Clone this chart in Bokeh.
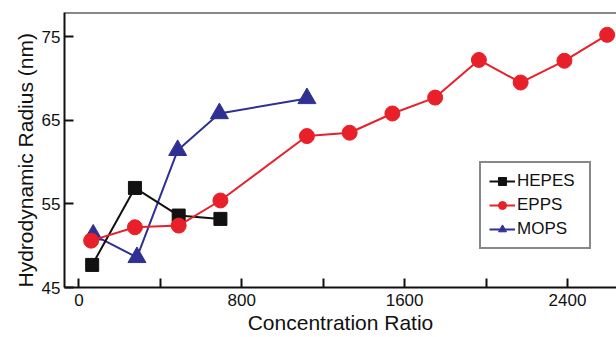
from bokeh.plotting import figure
from bokeh.models import Range1d, FixedTicker, Span, Legend, LegendItem, Title
from bokeh.embed import file_html
from bokeh.resources import INLINE

hepes_x = [65, 275, 490, 695]
hepes_y = [47.7, 56.9, 53.6, 53.2]
epps_x = [60, 275, 490, 695, 1120, 1330, 1540, 1750, 1965, 2170, 2385, 2595]
epps_y = [50.6, 52.2, 52.4, 55.4, 63.1, 63.5, 65.8, 67.7, 72.2, 69.5, 72.1, 75.2]
mops_x = [70, 285, 485, 690, 1120]
mops_y = [51.3, 48.6, 61.4, 65.8, 67.6]

x_ticks = [0, 400, 800, 1200, 1600, 2000, 2400]
x_labels = {0: "0", 400: "", 800: "800", 1200: "", 1600: "1600", 2000: "", 2400: "2400"}
y_ticks = [45, 55, 65, 75]

FONT = "Liberation Sans"
BLACK = "#111111"
RED = "#E8202A"
BLUE = "#2E3192"

p = figure(width=616, height=337, output_backend="svg", toolbar_location=None,
           x_range=Range1d(-71, 2641), y_range=Range1d(45, 77.87),
           min_border_left=64, min_border_right=0, min_border_top=12, min_border_bottom=50)
p.outline_line_color = None
p.grid.visible = False
p.background_fill_color = "white"
p.border_fill_color = "white"

for ax in (p.xaxis[0], p.yaxis[0]):
    ax.axis_line_width = 2
    ax.axis_line_color = BLACK
    ax.major_tick_in = 9
    ax.major_tick_out = 0
    ax.major_tick_line_width = 2
    ax.major_tick_line_color = BLACK
    ax.minor_tick_line_color = None
    ax.major_label_text_font = FONT
    ax.major_label_text_font_size = "17px"
    ax.major_label_text_color = BLACK
    ax.axis_label_text_font = FONT
    ax.axis_label_text_font_size = "21px"
    ax.axis_label_text_font_style = "normal"
    ax.axis_label_text_color = BLACK

p.xaxis.ticker = FixedTicker(ticks=x_ticks)
p.xaxis.major_label_overrides = x_labels
p.yaxis.ticker = FixedTicker(ticks=y_ticks)
p.xaxis.axis_label = "Concentration Ratio"
p.xaxis.major_label_standoff = 6
p.yaxis.major_label_standoff = 4
p.xaxis.axis_label_standoff = 2

p.add_layout(Span(location=77.87, dimension="width", line_color=BLACK, line_width=2))

ytitle = Title(text="Hydrodynamic Radius (nm)", align="left", offset=0,
               text_font=FONT, text_font_size="21px", text_font_style="normal",
               text_color=BLACK, standoff=4)
p.add_layout(ytitle, "left")

lm = p.line(mops_x, mops_y, line_color=BLUE, line_width=2)
sm = p.scatter(mops_x, mops_y, marker="triangle", size=18, fill_color=BLUE, line_color=BLUE)
lh = p.line(hepes_x, hepes_y, line_color=BLACK, line_width=2)
sh = p.scatter(hepes_x, hepes_y, marker="square", size=13, fill_color=BLACK, line_color=BLACK)
le = p.line(epps_x, epps_y, line_color=RED, line_width=2)
se = p.scatter(epps_x, epps_y, marker="circle", size=15, fill_color=RED, line_color=RED)

legend = Legend(items=[LegendItem(label="HEPES", renderers=[lh, sh]),
                       LegendItem(label="EPPS", renderers=[le, se]),
                       LegendItem(label="MOPS", renderers=[lm, sm])],
                location=(415, 38))
legend.border_line_color = BLACK
legend.border_line_width = 2
legend.background_fill_color = "white"
legend.background_fill_alpha = 1
legend.padding = 8
legend.spacing = 4
legend.margin = 0
legend.glyph_width = 26
legend.glyph_height = 20
legend.label_height = 20
legend.label_width = 64
legend.label_standoff = 2
legend.label_text_font = FONT
legend.label_text_font_size = "17px"
legend.label_text_color = BLACK
p.add_layout(legend)

open("out.html", "w").write(file_html(p, INLINE))
